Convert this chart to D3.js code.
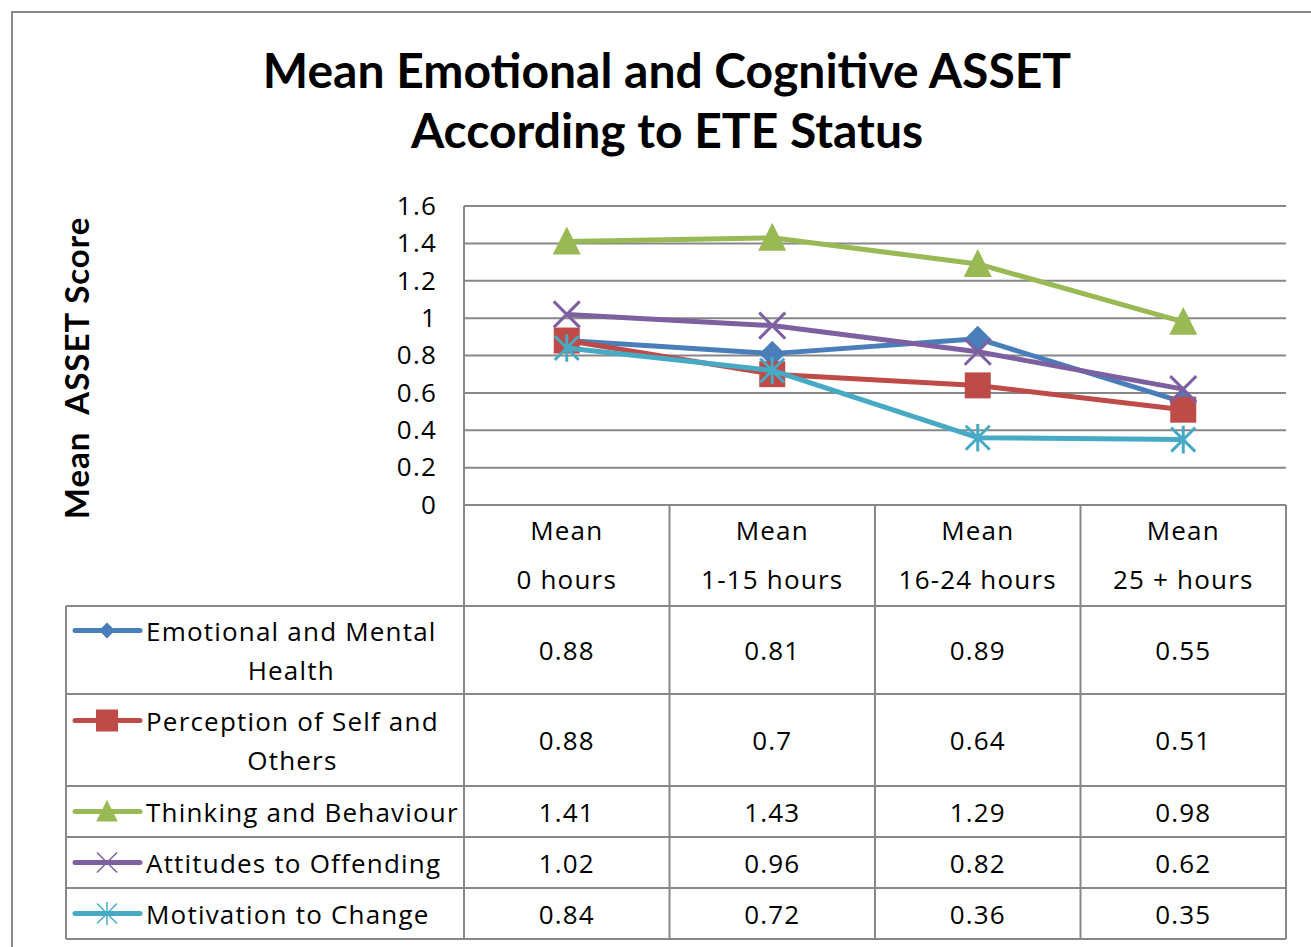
<!DOCTYPE html>
<html>
<head>
<meta charset="utf-8">
<script src="https://cdn.jsdelivr.net/npm/d3@7"></script>
<style>
  body { margin: 0; background: #fff; }
  svg { display: block; }
  text { font-family: "Open Sans", sans-serif; fill: #000; }
</style>
</head>
<body>
<div id="chart"></div>
<script>
const categories = ["0 hours", "1-15 hours", "16-24 hours", "25 + hours"];
const headerTop = "Mean";
const seriesNames = [
  ["Emotional and Mental", "Health"],
  ["Perception of Self and", "Others"],
  ["Thinking and Behaviour"],
  ["Attitudes to Offending"],
  ["Motivation to Change"]
];
const emotional = [0.88, 0.81, 0.89, 0.55];
const perception = [0.88, 0.70, 0.64, 0.51];
const thinking = [1.41, 1.43, 1.29, 0.98];
const attitudes = [1.02, 0.96, 0.82, 0.62];
const motivation = [0.84, 0.72, 0.36, 0.35];
const yTicks = [0, 0.2, 0.4, 0.6, 0.8, 1, 1.2, 1.4, 1.6];

const width = 1311, height = 947;
const colors = ["#4a7ebb", "#be4b48", "#98b954", "#7d60a0", "#46aac5"];
const markers = ["diamond", "square", "triangle", "x", "star"];
const seriesVals = [emotional, perception, thinking, attitudes, motivation];
const series = seriesNames.map((n, i) => ({ name: n, values: seriesVals[i], color: colors[i], marker: markers[i] }));

const gridColor = "#878787";
const plotLeft = 464, plotRight = 1286, plotTop = 206, plotBottom = 505;
const tableLeft = 66;
const headerBottom = 606;
const rowEdges = [606, 694, 786, 837, 888, 939];
const bodyFont = "26px";
const bodySpacing = "1.2px";
const labelLeft = 146;

const x = d3.scaleBand().domain(categories).range([plotLeft, plotRight]);
const y = d3.scaleLinear().domain([0, 1.6]).range([plotBottom, plotTop]);

const svg = d3.select("#chart").append("svg")
  .attr("width", width)
  .attr("height", height);

// outer chart border
svg.append("path")
  .attr("d", `M12,${height} L12,12 L${width},12`)
  .attr("fill", "none")
  .attr("stroke", "#8a8a8a")
  .attr("stroke-width", 2);

// title
svg.append("text")
  .attr("x", 667).attr("y", 88)
  .attr("text-anchor", "middle")
  .style("font-family", "Lato, sans-serif")
  .style("font-weight", "bold")
  .style("font-size", "48px")
  .text("Mean Emotional and Cognitive ASSET");
svg.append("text")
  .attr("x", 667).attr("y", 148)
  .attr("text-anchor", "middle")
  .style("font-family", "Lato, sans-serif")
  .style("font-weight", "bold")
  .style("font-size", "48px")
  .text("According to ETE Status");

// y label
svg.append("text")
  .attr("transform", "translate(89,368) rotate(-90)")
  .attr("text-anchor", "middle")
  .style("font-family", "Lato, sans-serif")
  .style("font-weight", "bold")
  .style("font-size", "33px")
  .style("letter-spacing", "1px")
  .style("white-space", "pre")
  .text("Mean  ASSET Score");

// gridlines
svg.append("g")
  .selectAll("line")
  .data(yTicks)
  .join("line")
  .attr("x1", plotLeft).attr("x2", plotRight)
  .attr("y1", d => y(d)).attr("y2", d => y(d))
  .attr("stroke", gridColor)
  .attr("stroke-width", 2);

// y axis
const yAxis = svg.append("g")
  .attr("transform", `translate(${plotLeft},0)`)
  .call(d3.axisLeft(y).tickValues(yTicks).tickSize(0).tickPadding(27).tickFormat(d => String(+d.toFixed(1))));
yAxis.select(".domain").remove();
yAxis.selectAll("text")
  .style("font-family", "'Open Sans', sans-serif")
  .style("font-size", bodyFont)
  .style("letter-spacing", bodySpacing)
  .attr("fill", "#000");

// table lines
const tbl = svg.append("g").attr("stroke", gridColor).attr("stroke-width", 2);
tbl.append("line").attr("x1", plotLeft).attr("x2", plotLeft).attr("y1", plotTop).attr("y2", rowEdges[5]);
tbl.append("line").attr("x1", plotRight).attr("x2", plotRight).attr("y1", plotBottom).attr("y2", rowEdges[5]);
tbl.append("line").attr("x1", tableLeft).attr("x2", tableLeft).attr("y1", headerBottom).attr("y2", rowEdges[5]);
tbl.selectAll(".vcol")
  .data(categories.slice(1))
  .join("line")
  .attr("x1", d => x(d)).attr("x2", d => x(d))
  .attr("y1", plotBottom).attr("y2", rowEdges[5]);
tbl.selectAll(".hrow")
  .data(rowEdges)
  .join("line")
  .attr("x1", tableLeft).attr("x2", plotRight)
  .attr("y1", d => d).attr("y2", d => d);

// header
const hdr = svg.append("g").style("font-size", bodyFont).style("letter-spacing", bodySpacing);
hdr.selectAll(".h1")
  .data(categories)
  .join("text")
  .attr("x", d => x(d) + x.bandwidth() / 2)
  .attr("y", 530)
  .attr("text-anchor", "middle")
  .attr("dominant-baseline", "central")
  .text(headerTop);
hdr.selectAll(".h2")
  .data(categories)
  .join("text")
  .attr("x", d => x(d) + x.bandwidth() / 2)
  .attr("y", 579)
  .attr("text-anchor", "middle")
  .attr("dominant-baseline", "central")
  .text(d => d);

function markerPath(type, s) {
  switch (type) {
    case "diamond": return `M0,${-s} L${s},0 L0,${s} L${-s},0Z`;
    case "square": return `M${-s},${-s} H${s} V${s} H${-s}Z`;
    case "triangle": return `M0,${-s * 1.15} L${s * 1.08},${s} L${-s * 1.08},${s}Z`;
    case "x": return `M${-s},${-s} L${s},${s} M${s},${-s} L${-s},${s}`;
    case "star": return `M${-s},${-s} L${s},${s} M${s},${-s} L${-s},${s} M0,${-s * 1.15} L0,${s * 1.15}`;
  }
}
function drawMarker(g, type, color, s, sw) {
  const filled = type !== "x" && type !== "star";
  g.append("path")
    .attr("d", markerPath(type, s))
    .attr("fill", filled ? color : "none")
    .attr("stroke", filled ? "none" : color)
    .attr("stroke-width", sw);
}

// lines + markers
const line = d3.line()
  .x((d, i) => x(categories[i]) + x.bandwidth() / 2)
  .y(d => y(d));
const markerSize = { diamond: 13, square: 13, triangle: 13, x: 13, star: 12 };
series.forEach(s => {
  const g = svg.append("g");
  g.append("path")
    .datum(s.values)
    .attr("d", line)
    .attr("fill", "none")
    .attr("stroke", s.color)
    .attr("stroke-width", 5)
    .attr("stroke-linejoin", "round");
  s.values.forEach((v, i) => {
    const m = g.append("g")
      .attr("transform", `translate(${x(categories[i]) + x.bandwidth() / 2},${y(v)})`);
    drawMarker(m, s.marker, s.color, markerSize[s.marker], 3);
  });
});

// table rows: legend + values
const legendSize = { diamond: 8, square: 11, triangle: 10, x: 10, star: 10 };
series.forEach((s, r) => {
  const top = rowEdges[r], bottom = rowEdges[r + 1];
  const mid = (top + bottom) / 2;
  const n = s.name.length;
  const lineGap = 39;
  const firstY = mid - (n - 1) * lineGap / 2;
  const g = svg.append("g").style("font-size", bodyFont).style("letter-spacing", bodySpacing);
  // first line left-aligned, wrapped lines centred under it
  const first = g.append("text")
    .attr("x", labelLeft)
    .attr("y", firstY)
    .attr("dominant-baseline", "central")
    .text(s.name[0]);
  const w = first.node().getComputedTextLength();
  s.name.slice(1).forEach((t, k) => {
    g.append("text")
      .attr("x", labelLeft + w / 2)
      .attr("y", firstY + (k + 1) * lineGap)
      .attr("text-anchor", "middle")
      .attr("dominant-baseline", "central")
      .text(t);
  });
  const sym = g.append("g").attr("transform", `translate(0,${firstY})`);
  sym.append("line")
    .attr("x1", 75).attr("x2", 140)
    .attr("stroke", s.color).attr("stroke-width", 5).attr("stroke-linecap", "round");
  const mk = sym.append("g").attr("transform", "translate(107,0)");
  drawMarker(mk, s.marker, s.color, legendSize[s.marker], 1.5);
  g.selectAll(".val")
    .data(s.values)
    .join("text")
    .attr("x", (d, i) => x(categories[i]) + x.bandwidth() / 2)
    .attr("y", mid)
    .attr("text-anchor", "middle")
    .attr("dominant-baseline", "central")
    .text(d => String(d));
});
</script>
</body>
</html>
